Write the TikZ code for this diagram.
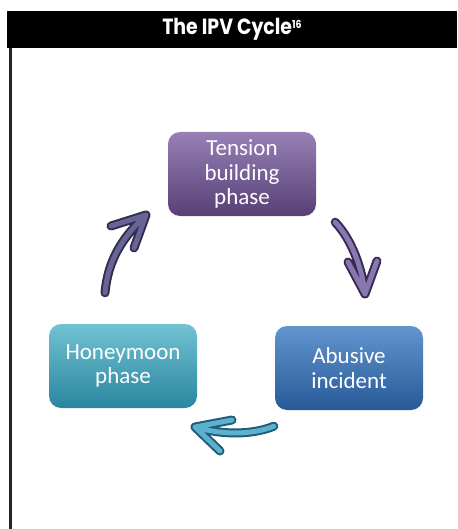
\documentclass[tikz,border=0pt]{standalone}
\usepackage{fontspec}
\setmainfont{Carlito}
\newfontfamily\titlefont{Poppins}
\usepackage{tikz}
\usetikzlibrary{positioning, calc}
\definecolor{tenstop}{RGB}{150,128,182}
\definecolor{tensbot}{RGB}{86,64,118}
\definecolor{honeytop}{RGB}{114,194,210}
\definecolor{honeybot}{RGB}{42,134,160}
\definecolor{abusetop}{RGB}{98,148,206}
\definecolor{abusebot}{RGB}{40,90,152}
\definecolor{rimpurple}{RGB}{56,42,82}
\definecolor{corepurple}{RGB}{136,120,176}
\definecolor{rimblue}{RGB}{32,92,120}
\definecolor{coreblue}{RGB}{92,178,206}
\definecolor{rimmix}{RGB}{50,46,80}
\definecolor{coremix}{RGB}{104,100,150}
\tikzset{
  phase/.style={rectangle, rounded corners=12pt, minimum width=148pt,
    minimum height=84pt, inner sep=0pt, align=center, text=white,
    font=\fontsize{23}{24.5}\selectfont},
  tensionbox/.style={phase, top color=tenstop, bottom color=tensbot},
  honeybox/.style={phase, top color=honeytop, bottom color=honeybot},
  abusebox/.style={phase, top color=abusetop, bottom color=abusebot},
  titlebar/.style={rectangle, fill=black, text=white, minimum width=450pt,
    minimum height=37pt, inner sep=0pt},
  frameline/.style={line width=3pt, color=black!85},
  rim/.style={line width=9pt, line cap=round, line join=round},
  core/.style={line width=5pt, line cap=round, line join=round}
}

\begin{document}
\begin{tikzpicture}[x=1pt, y=-1pt]
  \useasboundingbox (0,0) rectangle (457,529);

  \node[titlebar] (title) at (232,29.5)
    {\titlefont\bfseries\fontsize{22}{24}\selectfont\scalebox{0.86}[1]{The IPV Cycle\raisebox{6pt}{\fontsize{11}{11}\selectfont 16}}};
  \coordinate (frameend) at (10,529);
  \draw[frameline] (title.south west -| frameend) -- (frameend);

  \node[tensionbox] (tension) at (242,174) {Tension\\building\\phase};
  \node[honeybox] (honey) at (123,366) {Honeymoon\\phase};
  \node[abusebox] (abuse) at (349,368) {Abusive\\incident};

  % arrow ends
  \coordinate (a1s) at ([shift={(19,6)}]tension.south east);
  \coordinate (a1t) at (365,294);
  \coordinate (a1l) at (348,262);
  \coordinate (a1r) at (377,261);
  \coordinate (a2s) at ([shift={(-1,16)}]abuse.south west);
  \coordinate (a2t) at (195,427);
  \coordinate (a2u) at (232,420);
  \coordinate (a2d) at (220,451);
  \coordinate (a3s) at ([shift={(-18,-31)}]honey.north);
  \coordinate (a3t) at (146,215);
  \coordinate (a3u) at (111,226);
  \coordinate (a3d) at (134,248);

  % Paths
  \draw[rim, rimpurple] (a1s) .. controls (352,240) and (362,268) .. (a1t) (a1l) -- (a1t) -- (a1r);
  \draw[core, corepurple] (a1s) .. controls (352,240) and (362,268) .. (a1t) (a1l) -- (a1t) -- (a1r);
  \draw[rim, rimblue] (a2s) .. controls (255,434) and (225,436) .. (a2t) (a2u) -- (a2t) -- (a2d);
  \draw[core, coreblue] (a2s) .. controls (255,434) and (225,436) .. (a2t) (a2u) -- (a2t) -- (a2d);
  \draw[rim, rimmix] (a3s) .. controls (108,260) and (122,238) .. (a3t) (a3u) -- (a3t) -- (a3d);
  \draw[core, coremix] (a3s) .. controls (108,260) and (122,238) .. (a3t) (a3u) -- (a3t) -- (a3d);
\end{tikzpicture}
\end{document}
